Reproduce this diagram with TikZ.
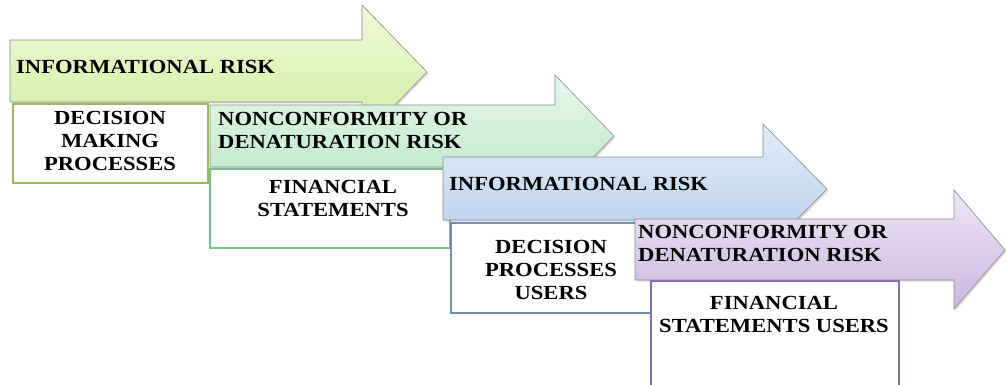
\documentclass[tikz,border=0pt]{standalone}
\usepackage{fontspec}
\setmainfont[FakeStretch=1.13]{Liberation Serif}
\usepackage{tikz}
\usetikzlibrary{shadows}

\definecolor{limetop}{HTML}{EFF9D6}
\definecolor{limebot}{HTML}{D0EDA2}
\definecolor{limeline}{HTML}{9BBB59}
\definecolor{minttop}{HTML}{E6F7EA}
\definecolor{mintbot}{HTML}{B9E8C4}
\definecolor{mintline}{HTML}{72C48F}
\definecolor{bluetop}{HTML}{E1ECF8}
\definecolor{bluebot}{HTML}{B3CEEC}
\definecolor{blueline}{HTML}{6A90B6}
\definecolor{liltop}{HTML}{EEE6F5}
\definecolor{lilbot}{HTML}{CBB6E1}
\definecolor{lilline}{HTML}{8A6DB3}

\begin{document}
\begin{tikzpicture}[x=1pt, y=-1pt,
    riskarrow/.style={draw=gray!90, line width=0.6pt,
        drop shadow={opacity=0.3, shadow xshift=1.5pt, shadow yshift=-1.5pt}},
    risktext/.style={anchor=west, align=left, inner sep=0pt,
        font=\bfseries\fontsize{20}{23}\selectfont},
    areabox/.style={draw, line width=1.8pt, fill=white, anchor=north west, inner sep=0pt},
    areatext/.style={align=center, inner sep=0pt,
        font=\bfseries\fontsize{20}{23}\selectfont}]
        \useasboundingbox (0,0) rectangle (1006,385);

        % Informational risk / decision making processes
        \shade[riskarrow, top color=limetop, bottom color=limebot]
            (10,40) -- (362,40) -- (362,5) -- (427,72) -- (362,139) -- (362,102) -- (10,102) -- cycle;
        \node[risktext] (info1) at (16,67) {INFORMATIONAL RISK};
        \node[areabox, draw=limeline, minimum width=195pt, minimum height=79pt] (dmpbox) at (12,103) {};
        \node[areatext] (dmp) at (110,141) {DECISION\\MAKING\\PROCESSES};

        % Nonconformity risk / financial statements
        \shade[riskarrow, top color=minttop, bottom color=mintbot]
            (210,105) -- (555,105) -- (555,75) -- (614,136) -- (555,197) -- (555,167) -- (210,167) -- cycle;
        \node[risktext] (nonconf1) at (218,130) {NONCONFORMITY OR\\DENATURATION RISK};
        \node[areabox, draw=mintline, minimum width=240pt, minimum height=79pt] (fsbox) at (209,168) {};
        \node[areatext] (fs) at (333,198) {FINANCIAL\\STATEMENTS};

        % Informational risk / decision processes users
        \shade[riskarrow, top color=bluetop, bottom color=bluebot]
            (443,157) -- (763,157) -- (763,124) -- (827,189) -- (763,254) -- (763,220) -- (443,220) -- cycle;
        \node[risktext] (info2) at (449,184) {INFORMATIONAL RISK};
        \node[areabox, draw=blueline, minimum width=200pt, minimum height=90pt] (dpubox) at (450,222) {};
        \node[areatext] (dpu) at (551,270) {DECISION\\PROCESSES\\USERS};

        % Nonconformity risk / financial statements users
        \shade[riskarrow, top color=liltop, bottom color=lilbot]
            (635,219) -- (954,219) -- (954,190) -- (1005,250) -- (954,309) -- (954,280) -- (635,280) -- cycle;
        \node[risktext] (nonconf2) at (638,243) {NONCONFORMITY OR\\DENATURATION RISK};
        \node[areabox, draw=lilline, minimum width=248pt, minimum height=108pt] (fsubox) at (650,280) {};
        \node[areatext] (fsu) at (774,314) {FINANCIAL\\STATEMENTS USERS};
    \end{tikzpicture}
\end{document}
